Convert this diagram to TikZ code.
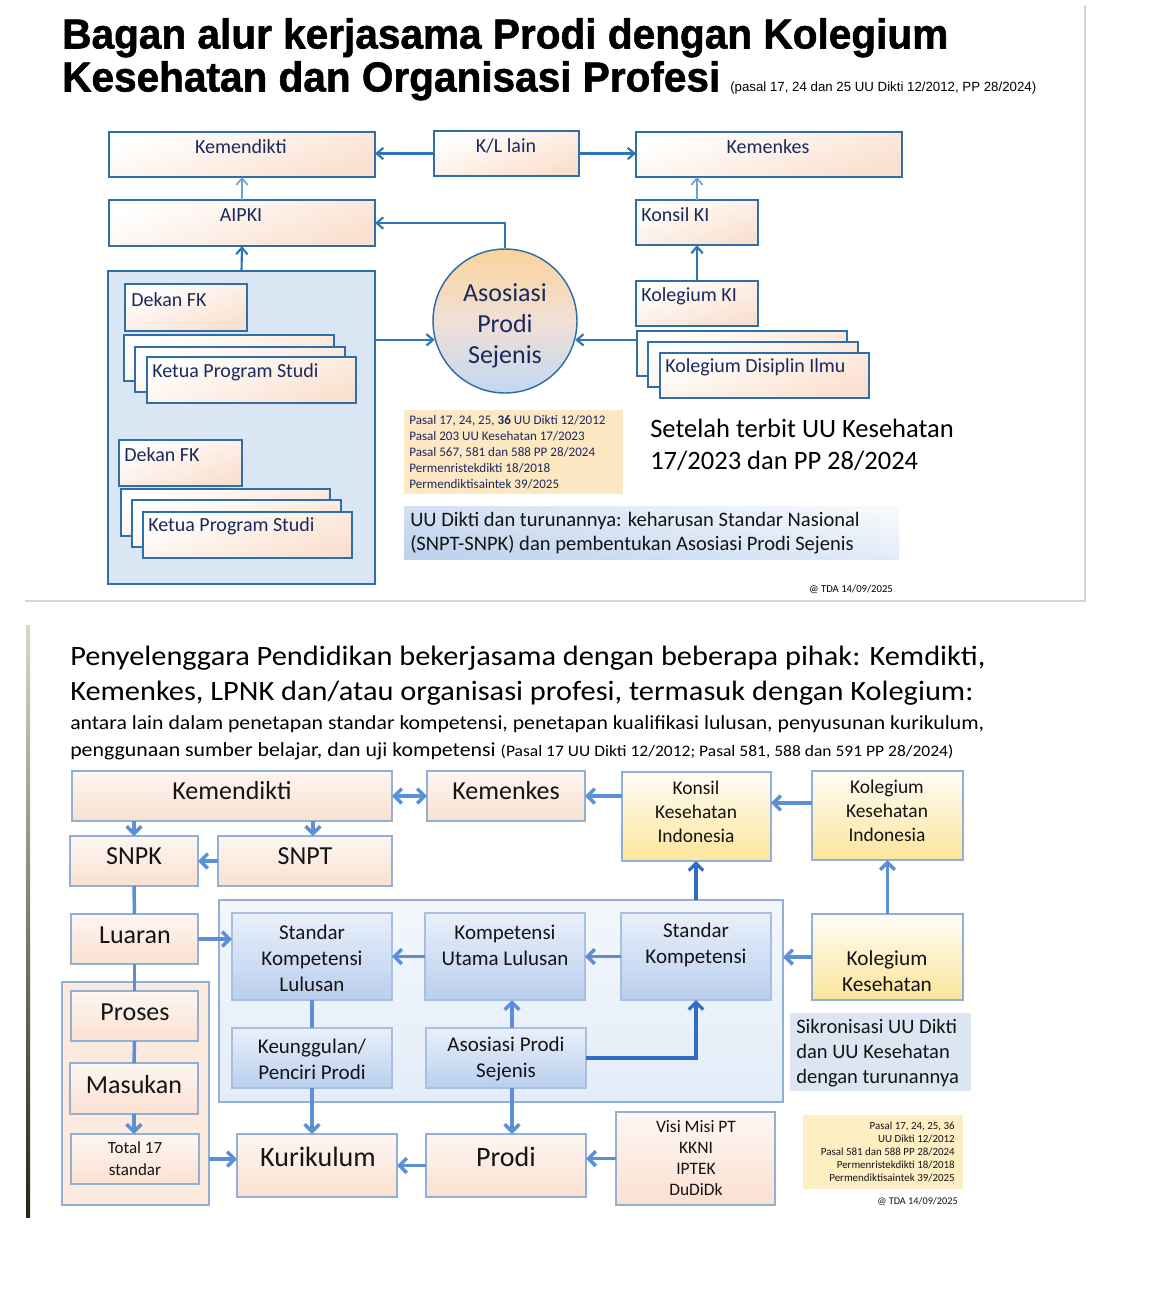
\documentclass[tikz,border=0pt]{standalone}
\usepackage{fontspec}
\setmainfont{Carlito}
\newfontfamily\arialf{Liberation Sans}
\newfontfamily\heavyf{Liberation Sans}[BoldFeatures={FakeBold=1.3}]
\usetikzlibrary{arrows.meta,calc}
\newdimen\pxu \pxu=0.75pt
\definecolor{sonebd}{HTML}{2F6EA8}
\definecolor{sonetx}{HTML}{1B2A5C}
\definecolor{sonepeach}{HTML}{FAE0CE}
\definecolor{sonearr}{HTML}{2E75B6}
\definecolor{sonearrl}{HTML}{6FA0D2}
\definecolor{sonecont}{HTML}{DAE6F3}
\definecolor{circtop}{HTML}{FBD39A}
\definecolor{circmid}{HTML}{F0E0D6}
\definecolor{circbot}{HTML}{C3D8F0}
\definecolor{legalone}{HTML}{FDE8C4}
\definecolor{uublue}{HTML}{BED3EE}
\definecolor{stwobd}{HTML}{92AFD8}
\definecolor{ptop}{HTML}{FDF6F2}
\definecolor{pbot}{HTML}{FBE0CF}
\definecolor{btop}{HTML}{E9F0FA}
\definecolor{bbot}{HTML}{B9CFEE}
\definecolor{ytop}{HTML}{FEFCF5}
\definecolor{ybot}{HTML}{FCE59B}
\definecolor{arrtwo}{HTML}{5B8FD6}
\definecolor{arrdark}{HTML}{2F6CC2}
\definecolor{sikron}{HTML}{DCE6F2}
\definecolor{legaltwo}{HTML}{FDEEC4}
\definecolor{innertop}{HTML}{F3F7FC}
\definecolor{innerbot}{HTML}{E3ECF8}
\definecolor{leftcont}{HTML}{FCEADF}
\definecolor{framegray}{HTML}{D4D4D4}
\definecolor{striptop}{HTML}{DDD6CC}
\definecolor{stripmid}{HTML}{8A7A66}
\definecolor{stripbot}{HTML}{2A2318}

\newcommand\bx[6]{\pgfmathsetmacro\bxW{(#5-#3)*0.75}\pgfmathsetmacro\bxH{(#6-#4)*0.75}\node[#2, minimum width=\bxW pt, minimum height=\bxH pt] (#1) at ({(#3+#5)/2},{(#4+#6)/2}) {};}

\tikzset{
 bxbase/.style={rectangle, inner sep=0pt, outer sep=0pt},
 onebox/.style={bxbase, draw=sonebd, line width=1.1pt, top color=white, bottom color=sonepeach, shading angle=20},
 onecont/.style={bxbase, draw=sonebd, line width=1.1pt, fill=sonecont},
 onetxt/.style={inner sep=0pt, text=sonetx, font=\fontsize{15}{18}\selectfont},
 onearr/.style={draw=sonearr, line width=1.6pt, -{Straight Barb[length=5pt,width=8.5pt]}},
 onearrl/.style={onearr, draw=sonearrl, line width=1.2pt},
 pbox/.style={bxbase, draw=stwobd, line width=1pt, top color=ptop, bottom color=pbot},
 bbox/.style={bxbase, draw=stwobd!80, line width=0.9pt, top color=btop, bottom color=bbot},
 ybox/.style={bxbase, draw=stwobd, line width=1pt, top color=ytop, bottom color=ybot},
 twotxt/.style={inner sep=0pt, align=center, text=black!92},
 twoarr/.style={draw=arrtwo, line width=2.6pt, -{Straight Barb[length=5.5pt,width=11pt]}},
 twoline/.style={draw=arrtwo, line width=2.6pt},
 twodark/.style={twoarr, draw=arrdark, line width=2.4pt},
}

\begin{document}
\begin{tikzpicture}[x=0.75pt,y=-0.75pt]
\useasboundingbox (0,0) rectangle (1153,1314);
\fill[white] (0,0) rectangle (1153,1314);
\draw[framegray, line width=1.5pt] (25,601) -- (1085,601) -- (1085,5);

% ---------------- slide 1 ----------------
\node[anchor=base west, inner sep=0pt] (titleA) at (62,48.5) {\resizebox{886\pxu}{\height}{\heavyf\bfseries\fontsize{31.5}{36}\selectfont Bagan alur kerjasama Prodi dengan Kolegium}};
\node[anchor=base west, inner sep=0pt] (titleB) at (62,91.5) {\resizebox{658\pxu}{\height}{\heavyf\bfseries\fontsize{31.5}{36}\selectfont Kesehatan dan Organisasi Profesi}};
\node[anchor=base west, inner sep=0pt] (titleC) at (730,91.5) {\resizebox{306\pxu}{\height}{\arialf\fontsize{10}{11}\selectfont (pasal 17, 24 dan 25 UU Dikti 12/2012, PP 28/2024)}};

\bx{kemdikA}{onebox}{109}{132}{375}{177}
\bx{kl}{onebox}{434}{131}{579}{176}
\bx{kemkesA}{onebox}{636}{132}{902}{177}
\bx{aipki}{onebox}{109}{200}{375}{246}
\bx{konsilki}{onebox}{636}{200}{758}{245}
\bx{contA}{onecont}{108}{271}{375}{584}
\bx{dekanA}{onebox}{125}{284}{247}{331}
\bx{ketuaAa}{onebox}{124}{335}{334}{381}
\bx{ketuaAb}{onebox}{135}{347}{345}{392}
\bx{ketuaAc}{onebox}{147}{357}{356}{403}
\bx{dekanB}{onebox}{119}{440}{242}{486}
\bx{ketuaBa}{onebox}{121}{489}{330}{536}
\bx{ketuaBb}{onebox}{132}{500}{341}{547}
\bx{ketuaBc}{onebox}{143}{512}{352}{558}
\bx{kolki}{onebox}{636}{281}{758}{326}
\bx{kdia}{onebox}{637}{331}{847}{376}
\bx{kdib}{onebox}{648}{342}{858}{387}
\bx{kdic}{onebox}{660}{353}{869}{398}
\bx{legalA}{bxbase, fill=legalone}{404}{410}{623}{494}
\bx{uubox}{bxbase, left color=white!85!uublue, right color=uublue, shading angle=-10}{404}{506}{899}{559}

\node[circle, draw=sonebd, line width=1.1pt, top color=circtop, bottom color=circbot, middle color=circmid, minimum size=108pt, inner sep=0pt] (circ) at (505,321) {};
\node[inner sep=0pt, align=center, text=sonetx, font=\fontsize{19.5}{23.25}\selectfont] (tcirc) at (505,326) {Asosiasi\\Prodi\\Sejenis};

\node[onetxt] (tkemdikA) at (241,147) {Kemendikti};
\node[onetxt] (tkl) at (506,146) {K/L lain};
\node[onetxt] (tkemkesA) at (768,147) {Kemenkes};
\node[onetxt] (taipki) at (241,215) {AIPKI};
\node[onetxt, anchor=west] (tkonsilki) at (641,215) {Konsil KI};
\node[onetxt, anchor=west] (tdekanA) at (131,300) {Dekan FK};
\node[onetxt, anchor=west] (tketuaA) at (152,372) {Ketua Program Studi};
\node[onetxt, anchor=west] (tdekanB) at (124,455) {Dekan FK};
\node[onetxt, anchor=west] (tketuaB) at (148,526) {Ketua Program Studi};
\node[onetxt, anchor=west] (tkolki) at (641,296) {Kolegium KI};
\node[onetxt, anchor=west] (tkdi) at (665,367) {Kolegium Disiplin Ilmu};
\node[onetxt, anchor=west, align=left, font=\fontsize{9.8}{12}\selectfont] (tlegalA) at (409,452) {Pasal 17, 24, 25, \textbf{36} UU Dikti 12/2012\\Pasal 203 UU Kesehatan 17/2023\\Pasal 567, 581 dan 588 PP 28/2024\\Permenristekdikti 18/2018\\Permendiktisaintek 39/2025};
\node[inner sep=0pt, anchor=west, align=left, text=black, font=\fontsize{19.9}{24}\selectfont] (tsetelah) at (650,445) {Setelah terbit UU Kesehatan\\17/2023 dan PP 28/2024};
\node[onetxt, anchor=west, align=left, text=black!92, font=\fontsize{15.4}{18}\selectfont] (tuu) at (410,533) {UU Dikti dan turunannya: keharusan Standar Nasional\\(SNPT-SNPK) dan pembentukan Asosiasi Prodi Sejenis};
\node[inner sep=0pt, font=\fontsize{8}{9}\selectfont] (tdaA) at (851,589) {@ TDA 14/09/2025};

\draw[onearr] (kl.west) -- (kl.west -| kemdikA.east);
\draw[onearr] (kl.east) -- (kl.east -| kemkesA.west);
\draw[onearrl] (aipki.north) -- (kemdikA.south);
\draw[onearr] (contA.north) -- (aipki.south);
\draw[onearrl] (konsilki.north) -- (konsilki.north |- kemkesA.south);
\draw[onearr] (kolki.north) -- (konsilki.south);
\draw[onearr] (circ.north) |- (aipki.east);
\draw[onearr] (contA.east |- circ.195) -- (circ.195);
\draw[onearr] (kdia.west |- circ.-15) -- (circ.-15);

% ---------------- slide 2 ----------------
\shade[top color=striptop, middle color=stripmid, bottom color=stripbot] (26,625) rectangle (30,1217);

\node[anchor=base west, inner sep=0pt] (titleD) at (70,665) {\resizebox{915\pxu}{\height}{\fontsize{21}{26}\selectfont Penyelenggara Pendidikan bekerjasama dengan beberapa pihak: Kemdikti,}};
\node[anchor=base west, inner sep=0pt] (titleE) at (70,700) {\resizebox{903\pxu}{\height}{\fontsize{21}{26}\selectfont Kemenkes, LPNK dan/atau organisasi profesi, termasuk dengan Kolegium:}};
\node[anchor=base west, inner sep=0pt] (titleF) at (70,729) {\resizebox{914\pxu}{\height}{\fontsize{15}{18}\selectfont antara lain dalam penetapan standar kompetensi, penetapan kualifikasi lulusan, penyusunan kurikulum,}};
\node[anchor=base west, inner sep=0pt] (titleG) at (70,756) {\resizebox{883\pxu}{\height}{\fontsize{15}{18}\selectfont penggunaan sumber belajar, dan uji kompetensi {\fontsize{12}{14}\selectfont (Pasal 17 UU Dikti 12/2012; Pasal 581, 588 dan 591 PP 28/2024)}}};

\bx{kemdikB}{pbox}{72}{771}{392}{821}
\bx{kemkesB}{pbox}{427}{771}{585}{821}
\bx{konsilB}{ybox}{622}{772}{771}{861}
\bx{kolkiB}{ybox}{812}{771}{963}{860}
\bx{snpk}{pbox}{70}{836}{198}{886}
\bx{snpt}{pbox}{218}{836}{392}{886}
\bx{luaran}{pbox}{71}{914}{198}{964}
\bx{inner}{bxbase, draw=stwobd, line width=1pt, top color=innertop, bottom color=innerbot}{219}{900}{783}{1102}
\bx{skl}{bbox}{232}{913}{392}{1000}
\bx{kul}{bbox}{425}{913}{585}{1000}
\bx{sk}{bbox}{621}{913}{771}{1000}
\bx{kolkes}{ybox}{812}{914}{963}{1000}
\bx{keung}{bbox}{232}{1028}{392}{1088}
\bx{aps}{bbox}{426}{1028}{586}{1088}
\bx{sikronbox}{bxbase, fill=sikron}{790}{1013}{971}{1091}
\bx{leftc}{bxbase, draw=stwobd, line width=1pt, fill=leftcont}{62}{982}{209}{1205}
\bx{proses}{pbox}{71}{991}{198}{1041}
\bx{masukan}{pbox}{70}{1063}{198}{1114}
\bx{total}{pbox}{71}{1134}{199}{1184}
\bx{kurik}{pbox}{237}{1134}{397}{1197}
\bx{prodi}{pbox}{426}{1134}{586}{1197}
\bx{visi}{pbox}{616}{1112}{775}{1205}
\bx{legalB}{bxbase, fill=legaltwo}{803}{1115}{963}{1189}

\node[twotxt, font=\fontsize{19.5}{24}\selectfont] (tkemdikB) at (232,791) {Kemendikti};
\node[twotxt, font=\fontsize{19.5}{24}\selectfont] (tkemkesB) at (506,791) {Kemenkes};
\node[twotxt, font=\fontsize{14.6}{18}\selectfont] (tkonsilB) at (696,812) {Konsil\\Kesehatan\\Indonesia};
\node[twotxt, font=\fontsize{14.6}{18}\selectfont] (tkolkiB) at (887,811) {Kolegium\\Kesehatan\\Indonesia};
\node[twotxt, font=\fontsize{19.5}{24}\selectfont] (tsnpk) at (134,856) {SNPK};
\node[twotxt, font=\fontsize{19.5}{24}\selectfont] (tsnpt) at (305,856) {SNPT};
\node[twotxt, font=\fontsize{19.5}{24}\selectfont] (tluaran) at (135,935) {Luaran};
\node[twotxt, font=\fontsize{15.75}{19.5}\selectfont] (tskl) at (312,958) {Standar\\Kompetensi\\Lulusan};
\node[twotxt, font=\fontsize{15.75}{19.5}\selectfont] (tkul) at (505,945) {Kompetensi\\Utama Lulusan};
\node[twotxt, font=\fontsize{15.75}{19.5}\selectfont] (tsk) at (696,945) {Standar\\Kompetensi};
\node[twotxt, font=\fontsize{16}{19.5}\selectfont] (tkolkes) at (887,971) {Kolegium\\Kesehatan};
\node[twotxt, font=\fontsize{15.75}{19.5}\selectfont] (tkeung) at (312,1059) {Keunggulan/\\Penciri Prodi};
\node[twotxt, font=\fontsize{15.75}{19.5}\selectfont] (taps) at (506,1059) {Asosiasi Prodi\\Sejenis};
\node[twotxt, anchor=west, align=left, font=\fontsize{15.4}{18.75}\selectfont] (tsikron) at (796,1053) {Sikronisasi UU Dikti\\dan UU Kesehatan\\dengan turunannya};
\node[twotxt, font=\fontsize{19.5}{24}\selectfont] (tproses) at (135,1012) {Proses};
\node[twotxt, font=\fontsize{19.5}{24}\selectfont] (tmasukan) at (134,1085) {Masukan};
\node[twotxt, font=\fontsize{12.75}{16.5}\selectfont] (ttotal) at (135,1159) {Total 17\\standar};
\node[twotxt, font=\fontsize{21}{24}\selectfont] (tkurik) at (318,1157) {Kurikulum};
\node[twotxt, font=\fontsize{21}{24}\selectfont] (tprodi) at (506,1157) {Prodi};
\node[twotxt, font=\fontsize{13.1}{15.75}\selectfont] (tvisi) at (696,1158) {Visi Misi PT\\KKNI\\IPTEK\\DuDiDk};
\node[twotxt, anchor=east, align=right, font=\fontsize{8.2}{9.75}\selectfont] (tlegalB) at (955,1152) {Pasal 17, 24, 25, 36\\UU Dikti 12/2012\\Pasal 581 dan 588 PP 28/2024\\Permenristekdikti 18/2018\\Permendiktisaintek 39/2025};
\node[twotxt, anchor=east, font=\fontsize{7.7}{9}\selectfont] (tdaB) at (958,1201) {@ TDA 14/09/2025};

\coordinate (pk) at ([yshift=9.4pt]kolkiB.west);
\coordinate (psnpt) at ([xshift=6pt]snpt.north);
\coordinate (papsn) at ([xshift=4.5pt]aps.north);
\coordinate (papss) at ([xshift=4.5pt]aps.south);

\draw[twoarr, {Straight Barb[length=5.5pt,width=11pt]}-{Straight Barb[length=5.5pt,width=11pt]}] (kemdikB.east) -- (kemkesB.west);
\draw[twoarr] (konsilB.west |- kemkesB.east) -- (kemkesB.east);
\draw[twoarr] (pk) -- (pk -| konsilB.east);
\draw[twoarr] (snpk.north |- kemdikB.south) -- (snpk.north);
\draw[twoarr] (psnpt |- kemdikB.south) -- (psnpt);
\draw[twoarr] (snpt.west) -- (snpt.west -| snpk.east);
\draw[twoline] (snpk.south) -- (luaran.north);
\draw[twoarr] (luaran.east) -- (luaran.east -| skl.west);
\draw[twoline] (luaran.south) -- (luaran.south |- leftc.north);
\draw[twoline] (proses.north |- leftc.north) -- (proses.north);
\draw[twoline] (proses.south) -- (masukan.north);
\draw[twoarr] (masukan.south) -- (masukan.south |- total.north);
\draw[twoarr] (leftc.east |- total.east) -- (kurik.west |- total.east);
\draw[twoarr] (kul.west) -- (kul.west -| skl.east);
\draw[twoarr] (sk.west) -- (sk.west -| kul.east);
\draw[twoarr] (kolkes.west) -- (kolkes.west -| inner.east);
\draw[twodark] (sk.north |- inner.north) -- (sk.north |- konsilB.south);
\draw[twoarr] (kolkes.north) -- (kolkes.north |- kolkiB.south);
\draw[twoarr] (papsn) -- (papsn |- kul.south);
\draw[twodark] (aps.east) -| (sk.south);
\draw[twoline] (skl.south) -- (keung.north);
\draw[twoarr] (keung.south) -- (keung.south |- kurik.north);
\draw[twoarr] (papss) -- (papss |- prodi.north);
\draw[twoarr] (prodi.west) -- (prodi.west -| kurik.east);
\draw[twoarr] (visi.west) -- (visi.west -| prodi.east);
\end{tikzpicture}
\end{document}
